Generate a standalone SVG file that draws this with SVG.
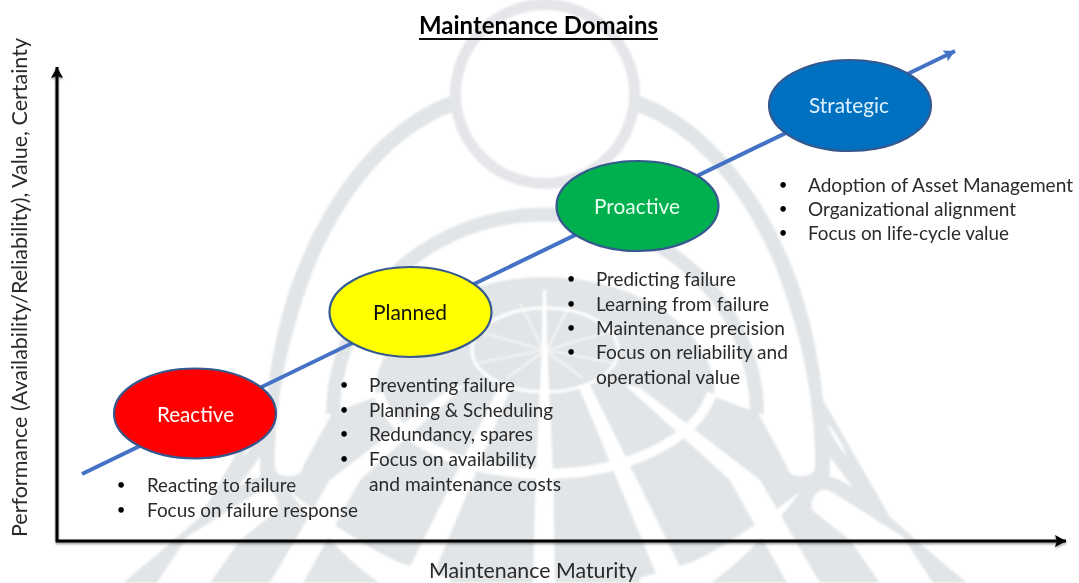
<svg xmlns="http://www.w3.org/2000/svg" xmlns:xlink="http://www.w3.org/1999/xlink" width="1079" height="583" viewBox="0 0 1079 583">
<style>
text{font-family:"Lato","Open Sans","Liberation Sans",sans-serif;font-size:20px;fill:#2b2b2b}
.b{text-anchor:middle;font-size:15px;fill:#000}
.node ellipse{stroke:#35598f;stroke-width:2.2}
.lab{font-size:21px}
.w{fill:#fff;stroke:none}
.wl{fill:none;stroke:#fff}
.g{fill:#e2e5e8}
</style>
<defs>
<filter id="soft" x="-5%" y="-5%" width="110%" height="110%"><feGaussianBlur stdDeviation="0.6"/></filter>
<filter id="wsoft" x="-5%" y="-5%" width="110%" height="110%"><feGaussianBlur stdDeviation="0.9"/></filter>
<filter id="shadow" x="-5%" y="-5%" width="110%" height="110%"><feDropShadow dx="0" dy="1.5" stdDeviation="1.2" flood-color="#000" flood-opacity="0.45"/></filter>
<marker id="ab" markerUnits="userSpaceOnUse" markerWidth="13" markerHeight="13" refX="11" refY="6" orient="auto"><path d="M0,0 L11,6 L0,12 L2,6 Z" fill="#000"/></marker>
<marker id="ac" markerUnits="userSpaceOnUse" markerWidth="13" markerHeight="13" refX="11" refY="6" orient="auto"><path d="M0,0 L11,6 L0,12 L2,6 Z" fill="#4472c4"/></marker>
<g id="half">
<path class="g" d="M545,96 L640,96 C700,118 760,180 797,280 C808,310 820,360 823,400 L890,517 Q925,548 967,583 L545,583 Z"/>
<path class="w" d="M545,113 L640,113 C695,135 745,190 778,273 C795,320 812,375 815,450 L815,466 Q815,476 801,476 Q788,476 787,466 L758,413 L715,397 L545,397 Z"/>
<path fill="none" stroke="#e2e5e8" stroke-width="14" d="M545,214.5 A212,200 0 0 1 757,414"/>
<path class="g" d="M545,277 A170,118 0 0 1 715,395 L545,420 Z"/>
<path class="wl" stroke-width="10" d="M545,474 A170,99 0 0 0 712,393"/>
<path class="wl" stroke-width="3" d="M545,392 A73,42 0 0 0 545,308"/>
<path class="w" d="M578,385 L590,385 L688,583 L660,583 Z"/>
<path class="w" d="M625,385 L640,388 L760,480 L820,583 L787,583 L730,480 Z"/>
<path class="w" d="M801,491 C770,515 730,545 690,563 L640,578 L640,590 L700,590 C740,565 775,525 801,491 Z"/>
<path class="w" d="M812,510 Q810,495 822,490 Q827,489 832,492 L903,537 L933,583 L880,583 L850,540 Z"/>
<path class="w" d="M827,423 Q840,437 847,457 Q834,442 827,423 Z"/>
<path class="w" d="M830,457 L853,488 Q840,478 830,477 Z"/>
<g stroke="#fff" stroke-width="1.2">
<line x1="547" y1="350" x2="570" y2="303"/>
<line x1="547" y1="350" x2="612" y2="331"/>
<line x1="547" y1="350" x2="612" y2="363"/>
<line x1="547" y1="352" x2="583" y2="378"/>
</g>
</g>
</defs>
<g id="watermark" filter="url(#wsoft)">
<use href="#half"/>
<use href="#half" transform="matrix(-1 0 0 1 1090 0)"/>
<path class="w" d="M543,290 L546,290 L547,345 L553,473 L555,583 L533,583 L536,473 L542,345 Z"/>
<circle cx="545" cy="94" r="89.5" fill="#fff" stroke="#e4e6e9" stroke-width="11"/>
</g>
<g id="connectors">
<line x1="82" y1="474" x2="955" y2="51" stroke="#4472c4" stroke-width="4" marker-end="url(#ac)" filter="url(#soft)"/>
<g filter="url(#shadow)">
<line x1="57" y1="542" x2="57" y2="67" stroke="#000" stroke-width="3" marker-end="url(#ab)"/>
<line x1="56" y1="541" x2="1066" y2="541" stroke="#000" stroke-width="3" marker-end="url(#ab)"/>
</g>
</g>
<g filter="url(#soft)">
<g id="title"><text x="419" y="34" style="font-size:24px;font-weight:700;fill:#000" textLength="239" lengthAdjust="spacingAndGlyphs">Maintenance Domains</text><rect x="419" y="38" width="239" height="2" fill="#111"/></g>
<g id="y-label"><text transform="translate(27,537) rotate(-90)" style="font-size:21px" textLength="499" lengthAdjust="spacingAndGlyphs">Performance (Availability/Reliability), Value, Certainty</text></g>
<g id="x-label"><text x="429" y="578" style="font-size:21px" textLength="208" lengthAdjust="spacingAndGlyphs">Maintenance Maturity</text></g>
<g id="reactive" class="node">
<ellipse cx="195" cy="413.5" rx="81" ry="45" fill="#ff0000"/>
<text class="lab" x="157" y="422" style="fill:#fff" textLength="77" lengthAdjust="spacingAndGlyphs">Reactive</text>
<text class="b" x="121" y="490">•</text><text x="147" y="492" textLength="149" lengthAdjust="spacingAndGlyphs">Reacting to failure</text>
<text class="b" x="121" y="515">•</text><text x="147" y="517" textLength="211" lengthAdjust="spacingAndGlyphs">Focus on failure response</text>
</g>
<g id="planned" class="node">
<ellipse cx="410.5" cy="312" rx="81" ry="45" fill="#ffff00"/>
<text class="lab" x="373" y="320" style="fill:#111" textLength="74" lengthAdjust="spacingAndGlyphs">Planned</text>
<text class="b" x="344" y="390">•</text><text x="369" y="392" textLength="146" lengthAdjust="spacingAndGlyphs">Preventing failure</text>
<text class="b" x="344" y="415">•</text><text x="369" y="417" textLength="184" lengthAdjust="spacingAndGlyphs">Planning &amp; Scheduling</text>
<text class="b" x="344" y="439">•</text><text x="369" y="441" textLength="164" lengthAdjust="spacingAndGlyphs">Redundancy, spares</text>
<text class="b" x="344" y="464">•</text><text x="369" y="466" textLength="167" lengthAdjust="spacingAndGlyphs">Focus on availability</text>
<text x="369" y="491" textLength="192" lengthAdjust="spacingAndGlyphs">and maintenance costs</text>
</g>
<g id="proactive" class="node">
<ellipse cx="637.5" cy="206" rx="81" ry="45" fill="#00b050"/>
<text class="lab" x="594" y="214" style="fill:#e8fff0" textLength="86" lengthAdjust="spacingAndGlyphs">Proactive</text>
<text class="b" x="571" y="284">•</text><text x="596" y="286" textLength="140" lengthAdjust="spacingAndGlyphs">Predicting failure</text>
<text class="b" x="571" y="309">•</text><text x="596" y="311" textLength="173" lengthAdjust="spacingAndGlyphs">Learning from failure</text>
<text class="b" x="571" y="333">•</text><text x="596" y="335" textLength="189" lengthAdjust="spacingAndGlyphs">Maintenance precision</text>
<text class="b" x="571" y="357">•</text><text x="596" y="359" textLength="192" lengthAdjust="spacingAndGlyphs">Focus on reliability and</text>
<text x="596" y="384" textLength="144" lengthAdjust="spacingAndGlyphs">operational value</text>
</g>
<g id="strategic" class="node">
<ellipse cx="850" cy="105.5" rx="81" ry="45.5" fill="#0070c0"/>
<text class="lab" x="809" y="113" style="fill:#dff1ff" textLength="80" lengthAdjust="spacingAndGlyphs">Strategic</text>
<text class="b" x="783" y="190">•</text><text x="808" y="192" style="font-size:18.5px" textLength="265" lengthAdjust="spacingAndGlyphs">Adoption of Asset Management</text>
<text class="b" x="783" y="214">•</text><text x="808" y="216" textLength="208" lengthAdjust="spacingAndGlyphs">Organizational alignment</text>
<text class="b" x="783" y="238">•</text><text x="808" y="240" textLength="201" lengthAdjust="spacingAndGlyphs">Focus on life-cycle value</text>
</g>
</g>
</svg>
